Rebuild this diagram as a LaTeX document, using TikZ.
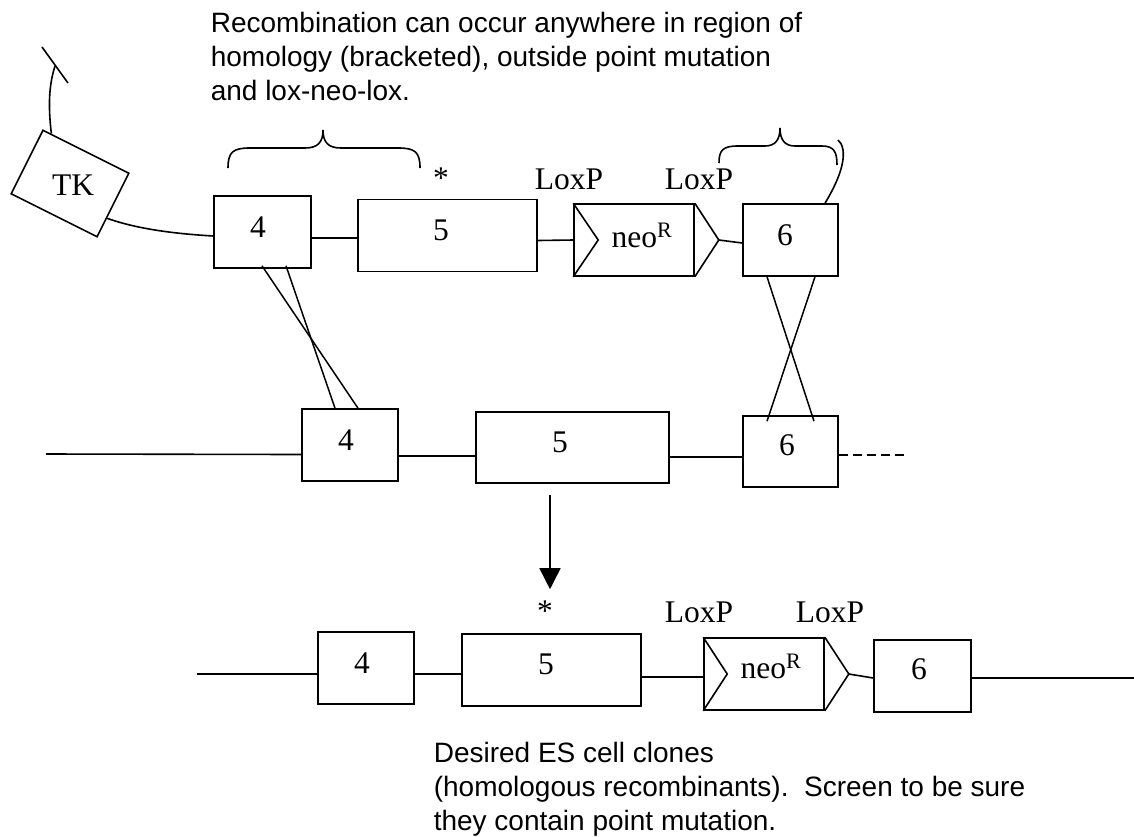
\documentclass[tikz,border=0pt]{standalone}
\usepackage{fontspec}
\setmainfont{Liberation Serif}
\newfontfamily\arialfont{Liberation Sans}
\usetikzlibrary{arrows.meta,calc}
\begin{document}
\begin{tikzpicture}[x=1pt,y=-1pt,line width=1.6pt,
  gene/.style={draw,rectangle,inner sep=0pt,minimum height=72pt},
  num/.style={anchor=base,inner sep=0pt,font=\fontsize{31.5}{36}\selectfont},
  note/.style={anchor=base west,inner sep=0pt,font=\arialfont\fontsize{28}{34}\selectfont},
  cross/.style={line width=1.5pt},
]
\useasboundingbox (0,0) rectangle (1134,836);

% ---------- explanatory notes ----------
\node[note] (t1) at (210,32)  {Recombination can occur anywhere in region of};
\node[note] (t2) at (210,66)  {homology (bracketed), outside point mutation};
\node[note] (t3) at (210,100) {and lox-neo-lox.};

\node[note] (b1) at (433,762) {Desired ES cell clones};
\node[note] (b2) at (433,796) {(homologous recombinants).\ \ Screen to be sure};
\node[note] (b3) at (433,830) {they contain point mutation.};

% ---------- targeting vector ----------
\node[draw,rectangle,inner sep=0pt,minimum width=96pt,minimum height=71pt,rotate=-26.6] (tk) at (70,183.5) {};
\node[num] (tkn) at (73,195) {TK};

\node[gene,minimum width=97pt]  (u4)   at (262.5,232) {};
\node[gene,minimum width=179pt] (u5)   at (447.5,235.5) {};
\node[gene,minimum width=120pt] (uneo) at (634,240) {};
\node[gene,minimum width=95pt]  (u6)   at (790.5,240) {};

\draw (uneo.north west) -- ([xshift=25pt]uneo.west) -- (uneo.south west);
\draw (uneo.north east) -- ([xshift=24pt]uneo.east) coordinate (uneotip) -- (uneo.south east);

\node[num] (u4n)   at (258,237) {4};
\node[num] (u5n)   at (441,240) {5};
\node[num] (uneon) at (642,247) {neo\textsuperscript{R}};
\node[num] (u6n)   at (785,245) {6};
\node[num] (ustar) at (441,188) {*};
\node[num] (ulox1) at (569,189) {LoxP};
\node[num] (ulox2) at (699,189) {LoxP};

% backbone of the vector
\coordinate (tkout) at ($(tk.east)!0.4!(tk.south east)$);
\coordinate (tkup)  at ($(tk.north west)!0.2!(tk.north)$);
\draw (tkout) .. controls (140,230) and (180,234) .. ([yshift=-4pt]u4.west);
\draw (tkup) .. controls (48,105) and (49,85) .. (55,66) coordinate (tkend);
\coordinate (barA) at (42,47);
\coordinate (barB) at (68,83);
\draw (barA) -- (barB);
\draw ([yshift=-6pt]u4.east) -- ([yshift=-2.5pt]u5.west);
\draw ([yshift=-5pt]u5.east) -- (uneo.west);
\draw (uneotip) -- ([yshift=-3pt]u6.west);

% homology brackets
\draw (228,168) .. controls (228,152) and (233,148) .. (250,148) -- (305,148)
      .. controls (318,148) and (323,142) .. (323,130)
      .. controls (323,142) and (328,148) .. (341,148) -- (398,148)
      .. controls (415,148) and (420,152) .. (420,168);
\draw (719,163) .. controls (719,150) and (723,146) .. (738,146) -- (765,146)
      .. controls (775,146) and (780,140) .. (780,128)
      .. controls (780,140) and (785,146) .. (795,146) -- (822,146)
      .. controls (834,146) and (837,152) .. (837,165);
\draw ([xshift=34.5pt]u6.north) .. controls (836,185) and (845,165) .. (843,150)
      .. controls (842,144) and (840,142) .. (838,140);

% ---------- endogenous locus ----------
\node[gene,minimum width=96pt]  (m4) at (350,445) {};
\node[gene,minimum width=193pt,minimum height=71pt] (m5) at (572.5,447.5) {};
\node[gene,minimum width=95pt,minimum height=71pt]  (m6) at (790.5,451.5) {};

\node[num] (m4n) at (346,450) {4};
\node[num] (m5n) at (560,452) {5};
\node[num] (m6n) at (787,455) {6};

\coordinate (mleft) at (46,454);
\coordinate (mright) at (908,455);
\draw (mleft) -- ([yshift=-9.5pt]m4.west);
\draw ([yshift=-11pt]m4.east) -- ([yshift=-8.5pt]m5.west);
\draw ([yshift=-9.5pt]m5.east) -- ([yshift=-5.5pt]m6.west);
\draw[dash pattern=on 9pt off 5pt] ([yshift=-3.5pt]m6.east) -- (mright);

% crossovers
\draw[cross] ([shift={(-0.5,-3)}]u4.south) -- ([xshift=8pt]m4.north);
\draw[cross] ([shift={(23.5,-3)}]u4.south) -- ([xshift=-15pt]m4.north);
\draw[cross] ([xshift=-23.5pt]u6.south) -- ([shift={(23.5,6)}]m6.north);
\draw[cross] ([xshift=24.5pt]u6.south) -- ([shift={(-23.5,6)}]m6.north);

% ---------- recombinant allele ----------
\node[gene,minimum width=96pt]  (l4)   at (366,668) {};
\node[gene,minimum width=179pt] (l5)   at (551.5,670) {};
\node[gene,minimum width=120pt] (lneo) at (764,674) {};
\node[gene,minimum width=97pt]  (l6)   at (922.5,676) {};

\draw (lneo.north west) -- ([xshift=24pt]lneo.west) -- (lneo.south west);
\draw (lneo.north east) -- ([xshift=24pt]lneo.east) coordinate (lneotip) -- (lneo.south east);

\node[num] (l4n)   at (362,673) {4};
\node[num] (l5n)   at (546,674) {5};
\node[num] (lneon) at (771,678) {neo\textsuperscript{R}};
\node[num] (l6n)   at (919,679) {6};
\node[num] (lstar) at (545,621) {*};
\node[num] (llox1) at (699,622) {LoxP};
\node[num] (llox2) at (830,622) {LoxP};

\coordinate (lleft) at (197,674);
\coordinate (lright) at (1134,678);
\draw (lleft) -- ([yshift=-6pt]l4.west);
\draw ([yshift=-6pt]l4.east) -- ([yshift=-4pt]l5.west);
\draw ([yshift=-7pt]l5.east) -- ([yshift=-3pt]lneo.west);
\draw (lneotip) -- ([yshift=-2pt]l6.west);
\draw ([yshift=-2pt]l6.east) -- (lright);

% selection arrow
\draw[-{Triangle[length=21pt,width=21pt]}] ([shift={(-22.5,11)}]m5.south) -- ([shift={(-1.5,-44)}]l5.north);
\end{tikzpicture}
\end{document}
